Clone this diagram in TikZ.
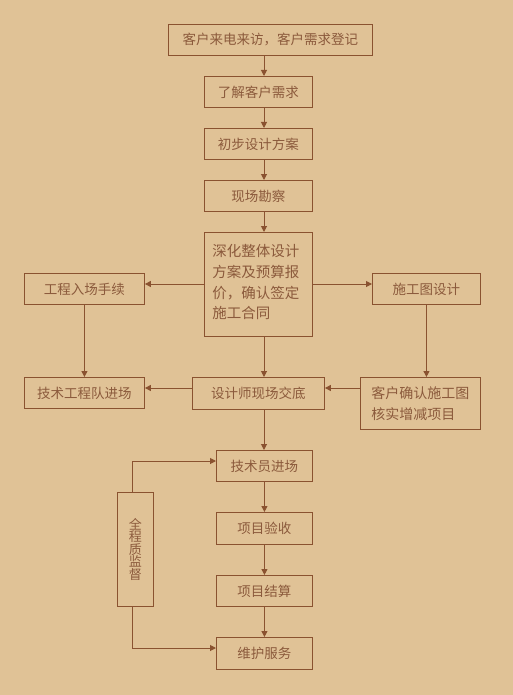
\documentclass[tikz,border=0pt]{standalone}
\usepackage{fontspec}
\setmainfont{Noto Sans CJK SC}
\usetikzlibrary{arrows.meta}
\definecolor{bg}{HTML}{E0C296}
\definecolor{ln}{HTML}{8A5230}
\definecolor{tx}{HTML}{8B5A3C}
\begin{document}
\begin{tikzpicture}[x=1pt,y=-1pt,
  box/.style={draw=ln,line width=0.9pt,text=tx,font=\fontsize{13.5}{16}\selectfont,inner sep=0pt,anchor=north west},
  arr/.style={draw=ln,line width=1pt,-{Triangle[length=6pt,width=6pt]}},
  ln/.style={draw=ln,line width=1pt}]
\fill[bg] (0,0) rectangle (513,695);
\useasboundingbox (0,0) rectangle (513,695);
\node[box,minimum width=204pt,minimum height=31pt] (a) at (168,24) {客户来电来访，客户需求登记};
\node[box,minimum width=108pt,minimum height=31pt] (b) at (204,76) {了解客户需求};
\node[box,minimum width=108pt,minimum height=31pt] (c) at (204,128) {初步设计方案};
\node[box,minimum width=108pt,minimum height=31pt] (d) at (204,180) {现场勘察};
\node[box,minimum width=108pt,minimum height=104pt,text width=100pt,align=left,font=\fontsize{14.5}{20.7}\selectfont] (e) at (204,232) {\hspace*{4pt}\parbox[t]{98pt}{\vspace*{8pt}深化整体设计\\方案及预算报\\价，确认签定\\施工合同\vspace*{12pt}}};
\node[box,minimum width=120pt,minimum height=31pt] (f) at (24,273) {工程入场手续};
\node[box,minimum width=108pt,minimum height=31pt] (g) at (372,273) {施工图设计};
\node[box,minimum width=120pt,minimum height=31pt] (h) at (24,377) {技术工程队进场};
\node[box,minimum width=132pt,minimum height=32pt] (i) at (192,377) {设计师现场交底};
\node[box,minimum width=120pt,minimum height=52pt,align=left,font=\fontsize{14}{20.5}\selectfont] (j) at (360,377) {客户确认施工图\\核实增减项目};
\node[box,minimum width=96pt,minimum height=31pt] (k) at (216,450) {技术员进场};
\node[box,minimum width=96pt,minimum height=32pt] (l) at (216,512) {项目验收};
\node[box,minimum width=96pt,minimum height=31pt] (m) at (216,575) {项目结算};
\node[box,minimum width=96pt,minimum height=32pt] (n) at (216,637) {维护服务};
\node[box,minimum width=36pt,minimum height=114pt,align=center,font=\fontsize{13}{12.5}\selectfont] (q) at (117,492) {全\\程\\质\\监\\督};
\coordinate (cx) at (264,0);
\draw[arr] (a.south -| cx) -- (b.north -| cx);
\draw[arr] (b.south -| cx) -- (c.north -| cx);
\draw[arr] (c.south -| cx) -- (d.north -| cx);
\draw[arr] (d.south -| cx) -- (e.north -| cx);
\draw[arr] (e.west |- 0,284) -- (f.east |- 0,284);
\draw[arr] (e.east |- 0,284) -- (g.west |- 0,284);
\draw[arr] (f) -- (h);
\draw[arr] (g) -- (j.north -| g);
\draw[arr] (e.south -| cx) -- (i.north -| cx);
\draw[arr] (i.west |- 0,388) -- (h.east |- 0,388);
\draw[arr] (j.west |- 0,388) -- (i.east |- 0,388);
\draw[arr] (i.south -| cx) -- (k.north -| cx);
\draw[arr] (k) -- (l);
\draw[arr] (l) -- (m);
\draw[arr] (m) -- (n);
\draw[arr] (q.north -| 132,0) |- (k.west |- 0,461);
\draw[arr] (q.south -| 132,0) |- (n.west |- 0,648);
\end{tikzpicture}
\end{document}
